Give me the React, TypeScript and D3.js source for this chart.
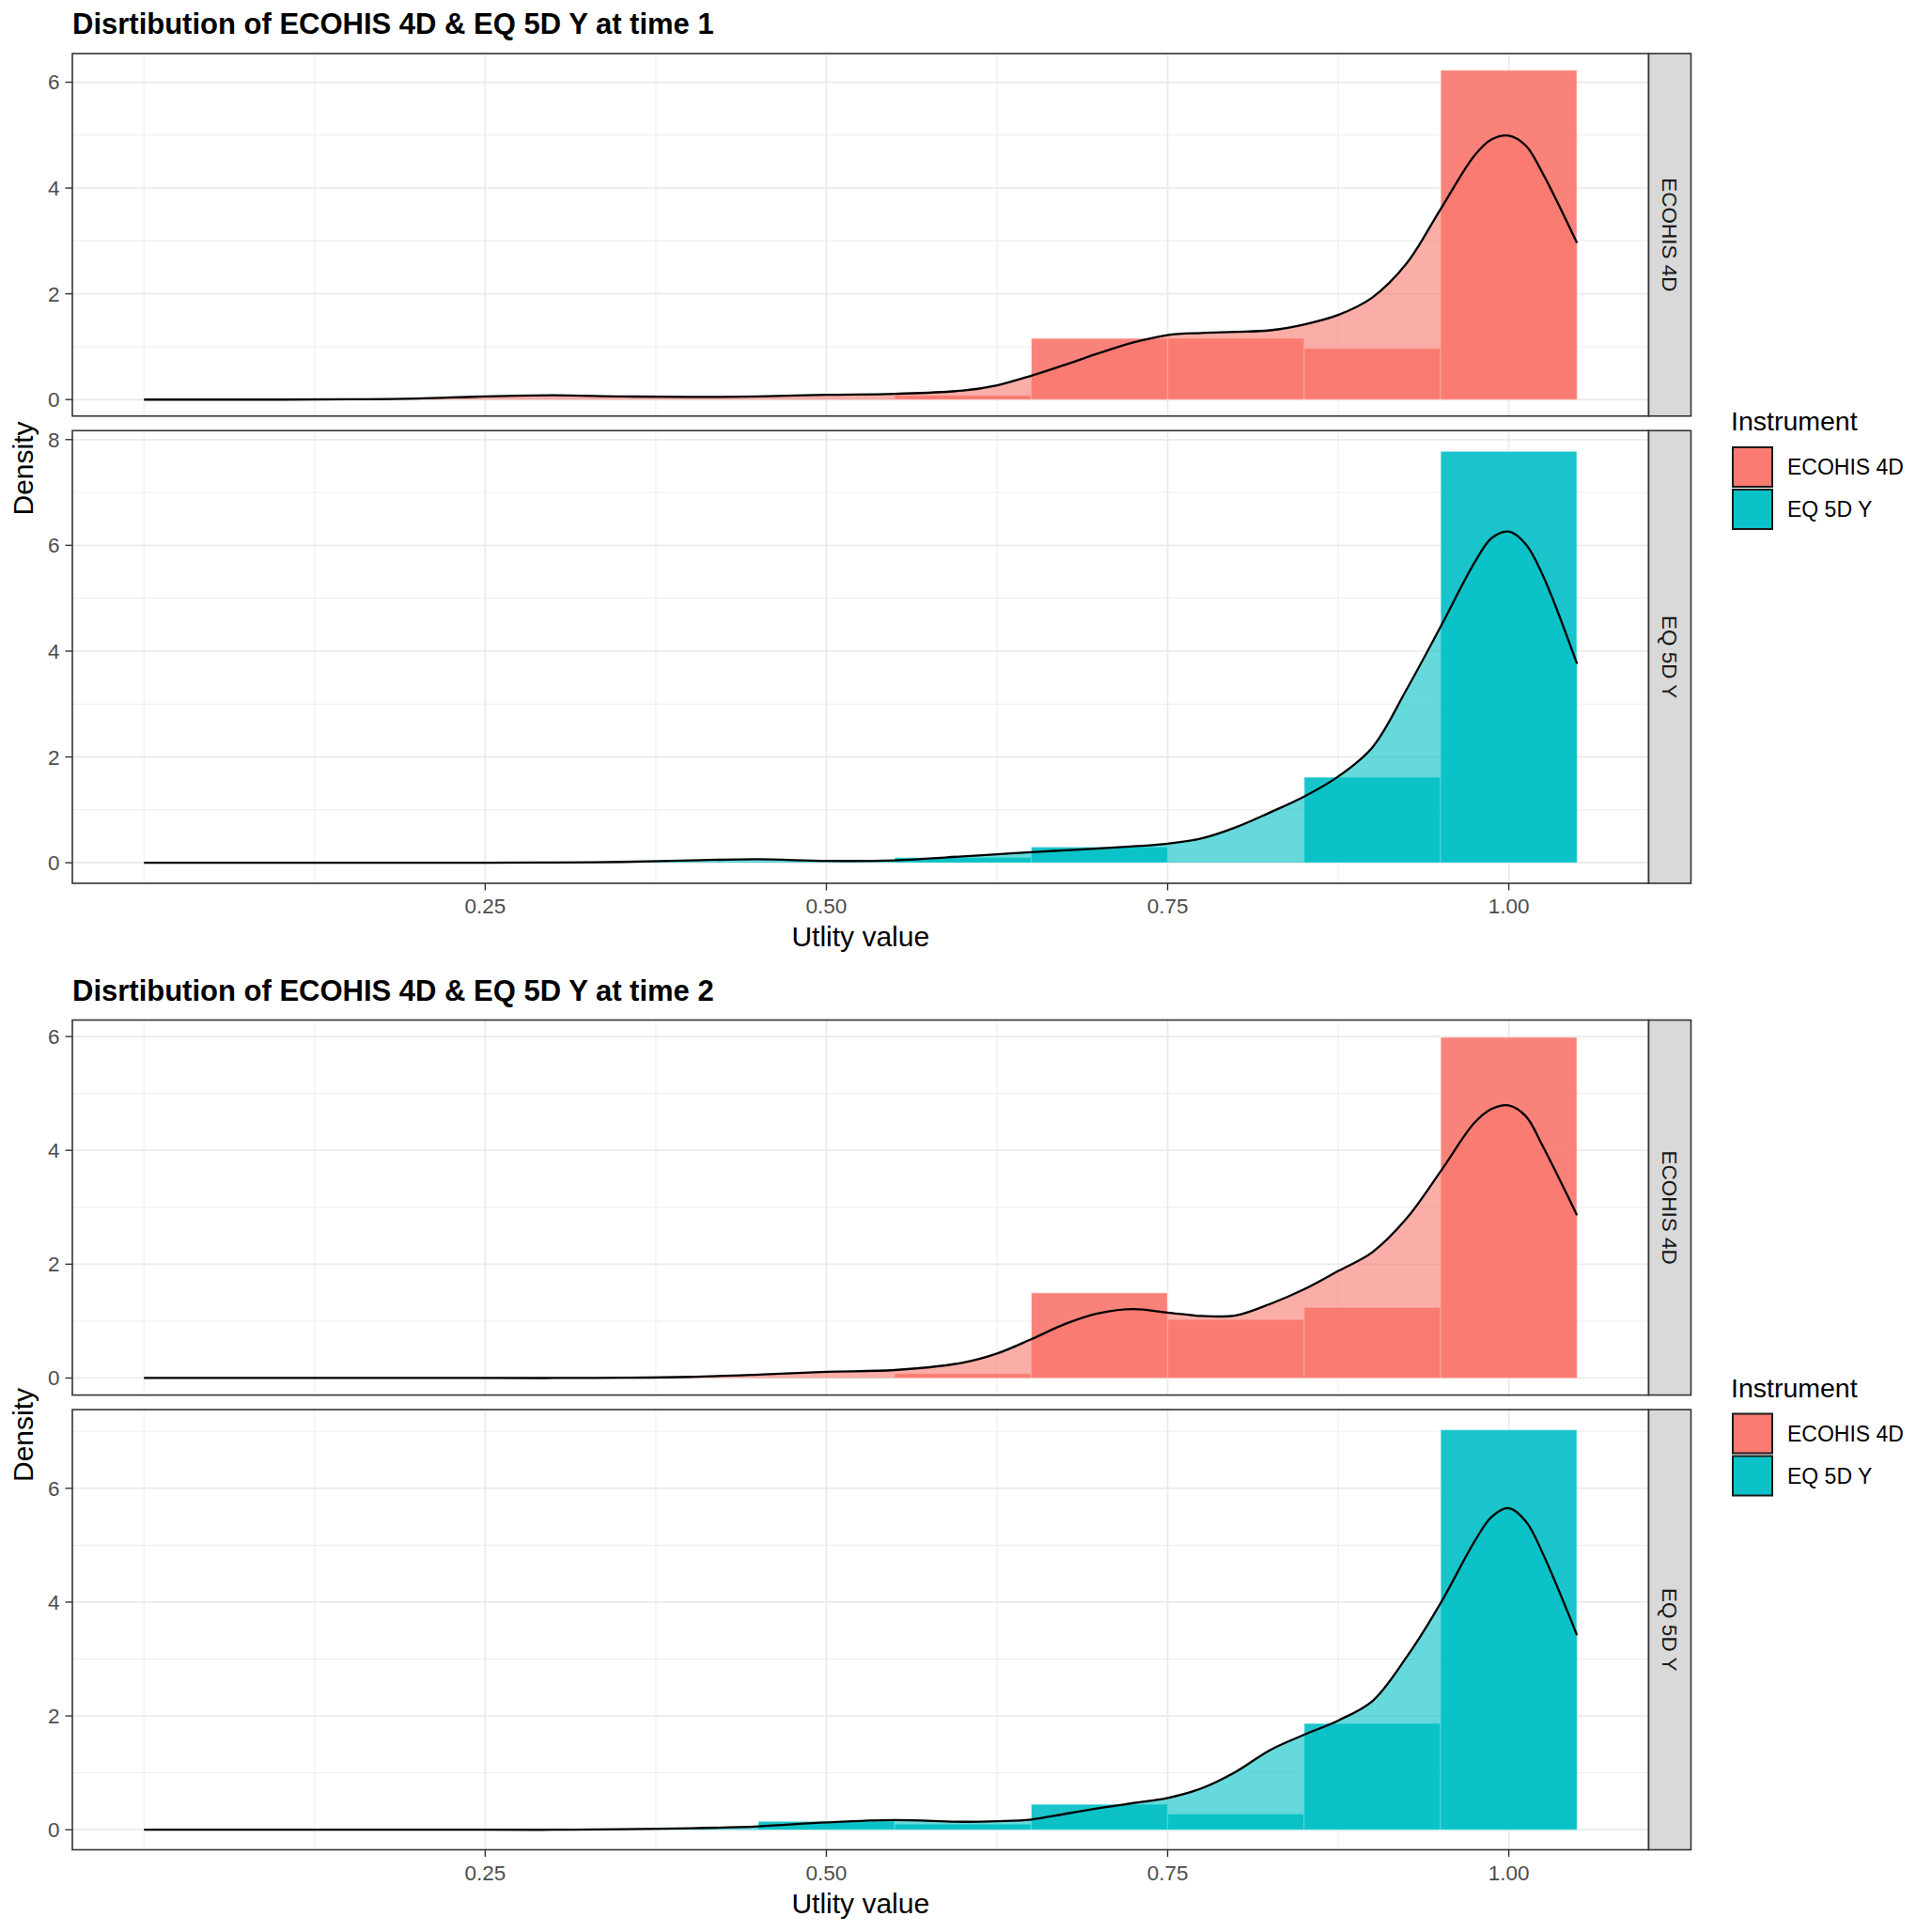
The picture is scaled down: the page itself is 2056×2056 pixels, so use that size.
import React from 'react';
import * as d3 from 'd3';

// ---------------- data ----------------
const instruments = ['ECOHIS 4D', 'EQ 5D Y'];
const instrumentColors = ['#F8766D', '#00BFC4'];
const plotTitles = [
  'Disrtibution of ECOHIS 4D & EQ 5D Y at time 1',
  'Disrtibution of ECOHIS 4D & EQ 5D Y at time 2',
];
const legendTitle = 'Instrument';
const xAxisTitle = 'Utlity value';
const yAxisTitle = 'Density';

const binCenters = [0, 0.1, 0.2, 0.3, 0.4, 0.5, 0.6, 0.7, 0.8, 0.9, 1.0];
const binWidth = 0.1;
const histEcohisT1 = [0, 0, 0, 0, 0, 0, 0.08, 1.16, 1.16, 0.97, 6.23];
const histEq5dT1 = [0, 0, 0, 0, 0, 0, 0.1, 0.3, 0, 1.62, 7.78];
const histEcohisT2 = [0, 0, 0, 0, 0, 0, 0.08, 1.5, 1.03, 1.24, 5.99];
const histEq5dT2 = [0, 0, 0, 0, 0, 0.15, 0.1, 0.45, 0.28, 1.87, 7.03];

const densityX = [0, 0.05, 0.1, 0.15, 0.2, 0.25, 0.3, 0.35, 0.4, 0.45, 0.5, 0.55, 0.6, 0.625, 0.65, 0.675, 0.7, 0.725, 0.75, 0.775, 0.8, 0.825, 0.85, 0.875, 0.9, 0.925, 0.95, 0.975, 0.9875, 1.0, 1.0125, 1.025, 1.05];
const densEcohisT1 = [0, 0, 0, 0.005, 0.02, 0.06, 0.08, 0.06, 0.05, 0.06, 0.09, 0.11, 0.17, 0.27, 0.45, 0.66, 0.88, 1.08, 1.22, 1.26, 1.28, 1.31, 1.42, 1.6, 1.93, 2.57, 3.6, 4.62, 4.92, 4.99, 4.8, 4.27, 2.96];
const densEq5dT1 = [0, 0, 0, 0, 0, 0, 0.005, 0.015, 0.045, 0.065, 0.035, 0.045, 0.12, 0.16, 0.2, 0.235, 0.27, 0.31, 0.36, 0.46, 0.67, 0.95, 1.25, 1.63, 2.18, 3.27, 4.46, 5.68, 6.14, 6.26, 6.02, 5.43, 3.76];
const densEcohisT2 = [0, 0, 0, 0, 0, 0, 0, 0.005, 0.02, 0.06, 0.11, 0.14, 0.27, 0.43, 0.68, 0.95, 1.14, 1.21, 1.15, 1.09, 1.1, 1.3, 1.56, 1.88, 2.21, 2.8, 3.63, 4.49, 4.73, 4.79, 4.6, 4.07, 2.86];
const densEq5dT2 = [0, 0, 0, 0, 0, 0, 0, 0.01, 0.025, 0.06, 0.13, 0.17, 0.14, 0.15, 0.18, 0.28, 0.38, 0.47, 0.56, 0.73, 1.02, 1.4, 1.67, 1.92, 2.26, 3.03, 3.98, 5.07, 5.5, 5.65, 5.42, 4.85, 3.42];

const xTicks = [0.25, 0.5, 0.75, 1.0];
const xTickLabels = ['0.25', '0.50', '0.75', '1.00'];
const xMinorBreaks = [0, 0.125, 0.375, 0.625, 0.875];
const xDataRange = [0, 1.05];

const plots = [
  { hists: [histEcohisT1, histEq5dT1], dens: [densEcohisT1, densEq5dT1] },
  { hists: [histEcohisT2, histEq5dT2], dens: [densEcohisT2, densEq5dT2] },
];

// ---------------- layout ----------------
const W = 2056;
const H = 2056;
const FONT = "'Liberation Sans', Arial, Helvetica, sans-serif";
const panelLeft = 77;
const panelRight = 1754.5;
const stripW = 45;
const plotH = 1028.5;
const panelTopRel = 57;
const panelBottomRel = 940;
const panelGap = 15.5;

function Plot({ index }: { index: number }) {
  const y0 = index * plotH;
  const { hists, dens } = plots[index];
  const span = xDataRange[1] - xDataRange[0];
  const x = d3
    .scaleLinear()
    .domain([xDataRange[0] - 0.05 * span, xDataRange[1] + 0.05 * span])
    .range([panelLeft, panelRight]);

  const maxes = hists.map((h, i) => Math.max(d3.max(h) as number, d3.max(dens[i]) as number));
  const spans = maxes.map((m) => m * 1.1);
  const avail = panelBottomRel - panelTopRel - panelGap * (hists.length - 1);
  const unit = avail / d3.sum(spans);
  let cursor = y0 + panelTopRel;
  const panels = spans.map((s, i) => {
    const top = cursor;
    const h = s * unit;
    cursor += h + panelGap;
    const y = d3
      .scaleLinear()
      .domain([-0.05 * maxes[i], 1.05 * maxes[i]])
      .range([top + h, top]);
    return { top, bottom: top + h, y, max: maxes[i] };
  });
  const lastBottom = panels[panels.length - 1].bottom;
  const firstTop = panels[0].top;

  return (
    <g>
      <text x={panelLeft} y={y0 + 36} fontFamily={FONT} fontWeight="bold" fontSize={31} fill="#000">
        {plotTitles[index]}
      </text>
      {panels.map((p, i) => {
        const yDom = p.y.domain();
        const yMajor = d3.range(0, yDom[1], 2).filter((v) => v >= yDom[0]);
        const yMinor = d3.range(-1, yDom[1], 2).filter((v) => v >= yDom[0]);
        const color = instrumentColors[i];
        const pts = densityX.map((dx, k) => [dx, dens[i][k]] as [number, number]);
        const curve = d3.curveCatmullRom.alpha(0.5);
        const area = d3
          .area<[number, number]>()
          .x((d) => x(d[0]))
          .y0(p.y(0))
          .y1((d) => p.y(Math.max(0, d[1])))
          .curve(curve);
        const line = d3
          .line<[number, number]>()
          .x((d) => x(d[0]))
          .y((d) => p.y(d[1]))
          .curve(curve);
        return (
          <g key={i}>
            <rect x={panelLeft} y={p.top} width={panelRight - panelLeft} height={p.bottom - p.top} fill="#fff" />
            {xMinorBreaks.map((v) => (
              <line key={'xm' + v} x1={x(v)} x2={x(v)} y1={p.top} y2={p.bottom} stroke="#EBEBEB" strokeWidth={0.9} />
            ))}
            {yMinor.map((v) => (
              <line key={'ym' + v} x1={panelLeft} x2={panelRight} y1={p.y(v)} y2={p.y(v)} stroke="#EBEBEB" strokeWidth={0.9} />
            ))}
            {xTicks.map((v) => (
              <line key={'xM' + v} x1={x(v)} x2={x(v)} y1={p.top} y2={p.bottom} stroke="#EBEBEB" strokeWidth={1.8} />
            ))}
            {yMajor.map((v) => (
              <line key={'yM' + v} x1={panelLeft} x2={panelRight} y1={p.y(v)} y2={p.y(v)} stroke="#EBEBEB" strokeWidth={1.8} />
            ))}
            {binCenters.map((c, k) =>
              hists[i][k] > 0 ? (
                <rect
                  key={'b' + k}
                  x={x(c - binWidth / 2)}
                  y={p.y(hists[i][k])}
                  width={x(c + binWidth / 2) - x(c - binWidth / 2)}
                  height={p.y(0) - p.y(hists[i][k])}
                  fill={color}
                  fillOpacity={0.9}
                  stroke="#ffffff"
                  strokeOpacity={0.55}
                  strokeWidth={1.4}
                />
              ) : null
            )}
            <path d={area(pts) || ''} fill={color} fillOpacity={0.6} />
            <path d={line(pts) || ''} fill="none" stroke="#000" strokeWidth={2.3} />
            <rect
              x={panelLeft}
              y={p.top}
              width={panelRight - panelLeft}
              height={p.bottom - p.top}
              fill="none"
              stroke="#333333"
              strokeWidth={1.6}
            />
            <rect x={panelRight} y={p.top} width={stripW} height={p.bottom - p.top} fill="#D9D9D9" stroke="#333333" strokeWidth={1.6} />
            <text
              transform={`translate(${panelRight + stripW / 2 - 8}, ${(p.top + p.bottom) / 2}) rotate(90)`}
              textAnchor="middle"
              fontFamily={FONT}
              fontSize={22.5}
              fill="#1A1A1A"
            >
              {instruments[i]}
            </text>
            {yMajor.map((v) => (
              <g key={'yt' + v}>
                <line x1={panelLeft - 7.5} x2={panelLeft} y1={p.y(v)} y2={p.y(v)} stroke="#333333" strokeWidth={1.4} />
                <text x={panelLeft - 13.5} y={p.y(v) + 8} textAnchor="end" fontFamily={FONT} fontSize={22.5} fill="#4D4D4D">
                  {String(v)}
                </text>
              </g>
            ))}
          </g>
        );
      })}
      {xTicks.map((v, k) => (
        <g key={'xt' + v}>
          <line x1={x(v)} x2={x(v)} y1={lastBottom} y2={lastBottom + 7.5} stroke="#333333" strokeWidth={1.4} />
          <text x={x(v)} y={y0 + 972} textAnchor="middle" fontFamily={FONT} fontSize={22.5} fill="#4D4D4D">
            {xTickLabels[k]}
          </text>
        </g>
      ))}
      <text x={(panelLeft + panelRight) / 2} y={y0 + 1007} textAnchor="middle" fontFamily={FONT} fontSize={30} fill="#000">
        {xAxisTitle}
      </text>
      <text
        transform={`translate(${35}, ${(firstTop + lastBottom) / 2}) rotate(-90)`}
        textAnchor="middle"
        fontFamily={FONT}
        fontSize={30}
        fill="#000"
      >
        {yAxisTitle}
      </text>
      {/* legend */}
      <text x={1842} y={y0 + 458} fontFamily={FONT} fontSize={28.5} fill="#000">
        {legendTitle}
      </text>
      {instruments.map((name, i) => (
        <g key={'lg' + i}>
          <rect x={1844} y={y0 + 476 + i * 45} width={42} height={42} fill="#fff" />
          <rect x={1844} y={y0 + 476 + i * 45} width={42} height={42} fill={instrumentColors[i]} fillOpacity={0.9} />
          <rect
            x={1844}
            y={y0 + 476 + i * 45}
            width={42}
            height={42}
            fill={instrumentColors[i]}
            fillOpacity={0.6}
            stroke="#1a1a1a"
            strokeWidth={2}
          />
          <text x={1902} y={y0 + 505 + i * 45} fontFamily={FONT} fontSize={23} fill="#000">
            {name}
          </text>
        </g>
      ))}
    </g>
  );
}

export default function App() {
  return (
    <svg
      width={W}
      height={H}
      viewBox={`0 0 ${W} ${H}`}
      style={{ position: 'absolute', left: 0, top: 0, display: 'block', background: '#fff' }}
    >
      <rect x={0} y={0} width={W} height={H} fill="#fff" />
      {plots.map((_, i) => (
        <Plot key={i} index={i} />
      ))}
    </svg>
  );
}
